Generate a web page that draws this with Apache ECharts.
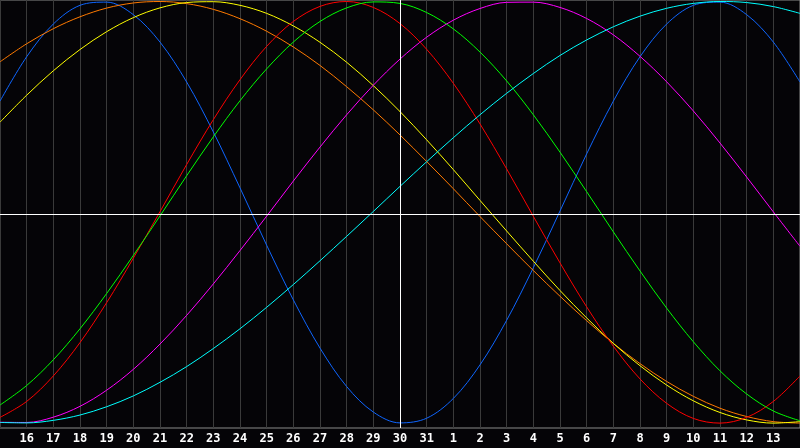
<!DOCTYPE html>
<html>
<head>
<meta charset="utf-8">
<script src="https://cdn.jsdelivr.net/npm/echarts@6/dist/echarts.min.js"></script>
<style>
html,body{margin:0;padding:0;background:#050407;}
#chart{width:800px;height:448px;}
</style>
</head>
<body>
<div id="chart"></div>
<script>
// Day labels (15th of one month to 14th of the next); "30" is today
const days = ["15","16","17","18","19","20","21","22","23","24","25","26","27","28","29","30","31",
              "1","2","3","4","5","6","7","8","9","10","11","12","13","14"];
const today = "30";

// Values, one per day (+1 top, -1 bottom)
const physical = [0.531,0.740,0.894,0.982,0.997,0.938,0.809,0.621,0.386,0.123,-0.147,-0.404,-0.631,-0.812,-0.932,-0.983,
                  -0.961,-0.868,-0.710,-0.500,-0.253,0.014,0.283,0.531,0.740,0.894,0.982,0.997,0.938,0.809,0.621];
const awareness = [0.716,0.801,0.872,0.928,0.969,0.993,1.000,0.990,0.963,0.919,0.860,0.786,0.699,0.599,0.490,0.372,
                   0.247,0.119,-0.012,-0.140,-0.266,-0.387,-0.502,-0.609,-0.704,-0.788,-0.858,-0.914,-0.953,-0.977,-0.984];
const aesthetic = [0.432,0.559,0.674,0.774,0.858,0.924,0.970,0.995,0.999,0.982,0.944,0.885,0.808,0.714,0.604,0.482,
                   0.349,0.209,0.064,-0.080,-0.222,-0.360,-0.489,-0.609,-0.714,-0.805,-0.879,-0.934,-0.969,-0.984,-0.977];
const emotional = [-0.957,-0.882,-0.762,-0.605,-0.417,-0.208,0.011,0.233,0.444,0.632,0.789,0.906,0.977,1.000,0.972,0.896,
                   0.775,0.615,0.424,0.212,-0.011,-0.230,-0.437,-0.622,-0.776,-0.891,-0.962,-0.984,-0.957,-0.882,-0.762];
const intellectual = [-0.899,-0.807,-0.686,-0.540,-0.374,-0.195,-0.009,0.180,0.363,0.533,0.683,0.809,0.906,0.970,0.998,0.991,
                      0.948,0.871,0.762,0.626,0.467,0.291,0.105,-0.084,-0.268,-0.443,-0.601,-0.738,-0.847,-0.927,-0.973];
const intuitive = [-0.980,-0.981,-0.956,-0.905,-0.829,-0.731,-0.612,-0.477,-0.329,-0.172,-0.010,0.155,0.315,0.467,0.606,0.729,
                   0.832,0.912,0.967,0.996,0.997,0.972,0.920,0.843,0.742,0.622,0.485,0.334,0.174,0.010,-0.152];
const spiritual = [-0.981,-0.983,-0.971,-0.946,-0.907,-0.856,-0.792,-0.718,-0.633,-0.540,-0.439,-0.332,-0.220,-0.105,0.012,0.130,
                   0.246,0.359,0.467,0.568,0.661,0.746,0.819,0.881,0.931,0.968,0.991,1.000,0.995,0.976,0.944];

const seriesList = [
  {name: "physical", data: physical, color: "#0f66ff"},
  {name: "awareness", data: awareness, color: "#ff7a00"},
  {name: "aesthetic", data: aesthetic, color: "#ffff00"},
  {name: "emotional", data: emotional, color: "#ff0000"},
  {name: "intellectual", data: intellectual, color: "#00ff00"},
  {name: "intuitive", data: intuitive, color: "#ff00ff"},
  {name: "spiritual", data: spiritual, color: "#00ffff"}
];

const chart = echarts.init(document.getElementById('chart'), null, {renderer: 'canvas'});

const series = seriesList.map(s => ({
  name: s.name,
  type: 'line',
  data: s.data,
  smooth: 0.34,
  symbol: 'none',
  silent: true,
  lineStyle: {color: s.color, width: 1},
  z: 3
}));

series.unshift({
  name: 'center',
  type: 'line',
  data: [],
  symbol: 'none',
  silent: true,
  z: 2,
  markLine: {
    silent: true,
    symbol: ['none', 'none'],
    animation: false,
    label: {show: false},
    lineStyle: {color: '#ffffff', width: 1, type: 'solid'},
    data: [{xAxis: today}, {yAxis: 0}]
  }
});

const lastIndex = days.length - 1;

chart.setOption({
  backgroundColor: '#050407',
  animation: false,
  grid: {left: 0, right: 0, top: 0, bottom: 20, containLabel: false, outerBoundsMode: 'none',
         show: true, borderColor: '#8a8a8a', borderWidth: 1},
  xAxis: {
    type: 'category',
    data: days,
    boundaryGap: false,
    axisLine: {show: true, lineStyle: {color: '#a8a8a8', width: 1}},
    axisTick: {show: false},
    axisLabel: {
      interval: function (index) { return index !== 0 && index !== lastIndex; },
      hideOverlap: false,
      color: '#ffffff',
      fontFamily: 'DejaVu Sans Mono',
      fontWeight: 'bold',
      fontSize: 12,
      margin: 5
    },
    splitLine: {show: true, interval: 0, lineStyle: {color: '#3a3a3a', width: 1}}
  },
  yAxis: {
    type: 'value',
    min: -1.007,
    max: 1.007,
    show: false,
    splitLine: {show: false}
  },
  series: series
});
</script>
</body>
</html>
